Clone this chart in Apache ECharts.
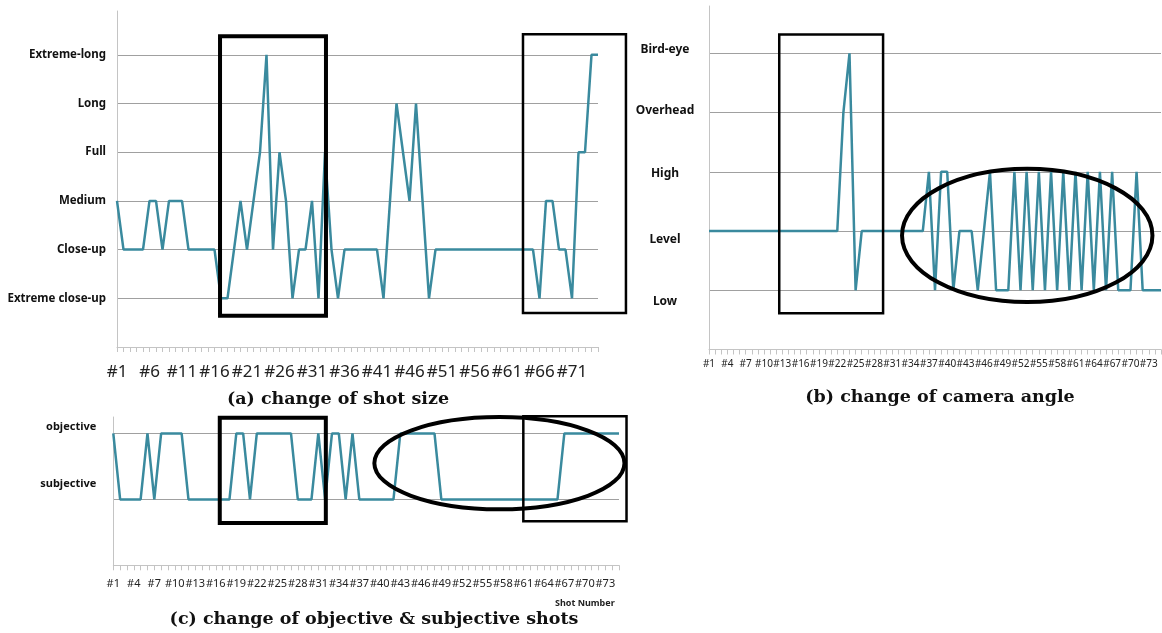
<!DOCTYPE html>
<html>
<head>
<meta charset="utf-8">
<script src="https://cdn.jsdelivr.net/npm/echarts@6/dist/echarts.min.js"></script>
<style>
html,body{margin:0;padding:0;background:#fff;}
#main{width:1162px;height:633px;}
</style>
</head>
<body>
<div id="main"></div>
<script>
// ---- categories ----
const shots = [];
for (let i = 1; i <= 75; i++) shots.push('#' + i);

// ---- level names ----
const shotSizeLevels = ['', 'Extreme close-up', 'Close-up', 'Medium', 'Full', 'Long', 'Extreme-long'];
const cameraAngleLevels = ['', 'Low', 'Level', 'High', 'Overhead', 'Bird-eye'];
const viewpointLevels = ['', 'subjective', 'objective'];

// ---- series values (level index per shot) ----
const shotSize = [3,2,2,2,2,3,3,2,3,3,3,2,2,2,2,2,
  1,1,2,3,2,3,4,6,2,4,3,1,2,2,3,1,4,2,1,
  2,2,2,2,2,2,1,3,5,4,3,5,3,1,
  2,2,2,2,2,2,2,2,2,2,2,2,2,2,2,2,
  1,3,3,2,2,1,4,4,6,6];
const cameraAngle = [2,2,2,2,2,2,2,2,2,2,2,2,2,2,2,2,2,2,2,2,2,2,
  4,5,1,
  2,2,2,2,2,2,2,2,2,2,2,
  3,1,3,3,1,2,2,2,1,2,3,1,1,1,
  3,1,3,1,3,1,3,1,3,1,3,1,3,1,3,1,3,
  1,1,1,3,1,1,1,1];
const objSubj = [2,1,1,1,1,2,1,2,2,2,2,
  1,1,1,1,1,1,1,2,2,1,2,2,2,2,2,2,1,1,1,2,1,2,2,1,2,
  1,1,1,1,1,1,2,2,2,2,2,2,
  1,1,1,1,1,1,1,1,1,1,1,1,1,1,1,1,1,1,
  2,2,2,2,2,2,2,2,2];

// ---- annotations (shot number / level units) ----
const rectsA = [[16.85, 33.15, 0.64, 6.38, 4], [63.46, 79.3, 0.70, 6.42, 2.5]];
const rectsB = [[12.5, 29.5, 0.61, 5.32, 2.5]];
const ellB = [[32.6, 73.6, 0.80, 3.05, 4]];
const rectsC = [[16.58, 32.1, 0.64, 2.24, 4], [61.0, 76.1, 0.67, 2.26, 2.5]];
const ellC = [[39.2, 75.8, 0.85, 2.25, 4]];

const LINE = '#3a8a9e';
const GRID = '#a0a0a0';
const AXIS = '#c4c4c4';

const chart = echarts.init(document.getElementById('main'));

function xAxisCfg(gridIndex, labelInterval, fontSize, margin) {
  return {
    type: 'category', gridIndex, data: shots, boundaryGap: false,
    axisLine: {show: true, lineStyle: {color: AXIS, width: 1}},
    axisTick: {show: true, interval: 0, length: 5, lineStyle: {color: AXIS}},
    axisLabel: {interval: labelInterval, fontSize, margin, color: '#222', fontFamily: 'Noto Sans'},
    splitLine: {show: false}
  };
}
function yAxisCfg(gridIndex, max, levels, labelOpts) {
  return {
    type: 'value', gridIndex, min: 0, max, interval: 1,
    axisLine: {show: true, lineStyle: {color: AXIS, width: 1}},
    axisTick: {show: false},
    splitLine: {show: true, showMinLine: false, showMaxLine: false, lineStyle: {color: GRID, width: 1}},
    axisLabel: Object.assign({
      color: '#111', fontWeight: 'bold', fontFamily: 'Noto Sans',
      showMinLabel: false, showMaxLabel: false,
      formatter: v => levels[v] || ''
    }, labelOpts)
  };
}

const richB = {
  b0: {padding: [0, 0, 8, 0]}, b1: {padding: [0, 0, 4, 0]}, b2: {padding: [4, 0, 0, 0]},
  b3: {padding: [18, 0, 0, 0]}, b4: {padding: [22, 0, 0, 0]}
};
const richC = {c1: {padding: [0, 0, 32, 0]}, c2: {padding: [0, 0, 14, 0]}};
const titleStyle = {fontFamily: 'DejaVu Serif', fontWeight: 'bold', fontSize: 17.5, color: '#111'};

const option = {
  animation: false,
  backgroundColor: '#fff',
  title: [
    {text: '(a) change of shot size', left: 333, top: 385, textAlign: 'center', textStyle: titleStyle},
    {text: '(b) change of camera angle', left: 935, top: 383, textAlign: 'center', textStyle: titleStyle},
    {text: '(c) change of objective & subjective shots', left: 369, top: 605, textAlign: 'center', textStyle: titleStyle}
  ],
  grid: [
    {left: 117, right: 564, top: 11, bottom: 286, containLabel: false},
    {left: 709, right: 1, top: 6, bottom: 283.5, containLabel: false},
    {left: 113.3, right: 543, top: 417, bottom: 67.7, containLabel: false}
  ],
  xAxis: [
    xAxisCfg(0, 4, 17, 17),
    xAxisCfg(1, 2, 10, 10),
    Object.assign(xAxisCfg(2, 2, 11, 13), {
      name: 'Shot Number', nameLocation: 'end', nameGap: -64,
      nameTextStyle: {fontSize: 9, fontWeight: 'bold', fontFamily: 'Noto Sans', color: '#222',
        align: 'left', verticalAlign: 'top', padding: [34, 0, 0, 0]}
    })
  ],
  yAxis: [
    yAxisCfg(0, 6.9, shotSizeLevels, {fontSize: 11.5, margin: 11}),
    yAxisCfg(1, 5.8, cameraAngleLevels, {fontSize: 12, margin: 44, align: 'center',
      formatter: v => cameraAngleLevels[v] ? '{b' + (5 - v) + '|' + cameraAngleLevels[v] + '}' : '',
      rich: richB}),
    yAxisCfg(2, 2.25, viewpointLevels, {fontSize: 11, margin: 17,
      formatter: v => viewpointLevels[v] ? '{c' + v + '|' + viewpointLevels[v] + '}' : '',
      rich: richC})
  ],
  series: [
    {type: 'line', xAxisIndex: 0, yAxisIndex: 0, data: shotSize, symbol: 'none',
      lineStyle: {color: LINE, width: 2.5}},
    {type: 'line', xAxisIndex: 1, yAxisIndex: 1, data: cameraAngle, symbol: 'none',
      lineStyle: {color: LINE, width: 2.5}},
    {type: 'line', xAxisIndex: 2, yAxisIndex: 2, data: objSubj, symbol: 'none',
      lineStyle: {color: LINE, width: 2.5}}
  ]
};
chart.setOption(option);

function toPx(g, x, y) {
  const p0 = chart.convertToPixel({xAxisIndex: g}, 0);
  const pN = chart.convertToPixel({xAxisIndex: g}, shots.length - 1);
  const step = (pN - p0) / (shots.length - 1);
  return [p0 + step * (x - 1), chart.convertToPixel({yAxisIndex: g}, y)];
}
const graphics = [];
function addRects(g, list) {
  list.forEach(r => {
    const a = toPx(g, r[0], r[3]), b = toPx(g, r[1], r[2]);
    graphics.push({type: 'rect', z: 100, shape: {x: a[0], y: a[1], width: b[0] - a[0], height: b[1] - a[1]},
      style: {fill: 'none', stroke: '#000', lineWidth: r[4]}});
  });
}
function addEll(g, list) {
  list.forEach(r => {
    const a = toPx(g, r[0], r[3]), b = toPx(g, r[1], r[2]);
    graphics.push({type: 'ellipse', z: 100,
      shape: {cx: (a[0] + b[0]) / 2, cy: (a[1] + b[1]) / 2, rx: (b[0] - a[0]) / 2, ry: (b[1] - a[1]) / 2},
      style: {fill: 'none', stroke: '#000', lineWidth: r[4]}});
  });
}
addRects(0, rectsA); addRects(1, rectsB); addEll(1, ellB); addRects(2, rectsC); addEll(2, ellC);
chart.setOption({graphic: graphics});
</script>
</body>
</html>
